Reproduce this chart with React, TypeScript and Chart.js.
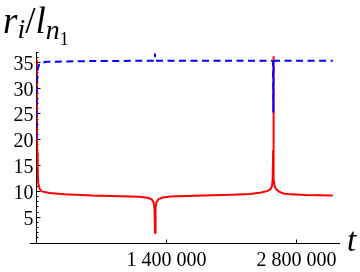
import React, { useEffect, useRef } from 'react';
import { Chart, registerables } from 'chart.js';

Chart.register(...registerables);

// ---- data ----
const redT = [0, 4000, 8000, 13000, 20000, 35000, 60000, 140000, 300000, 600000, 900000, 1100000, 1200000, 1240000, 1260000, 1270000, 1276000, 1282000, 1292000, 1312000, 1360000, 1440000, 1800000, 2100000, 2300000, 2420000, 2490000, 2520000, 2535000, 2543000, 2548000, 2550000, 2552000, 2557000, 2565000, 2580000, 2615000, 2660000, 2730000, 2900000, 3190000];
const redR = [35.5, 25, 17.5, 13.5, 11.5, 10.4, 10.0, 9.7, 9.45, 9.2, 9.07, 8.95, 8.75, 8.45, 7.9, 6.8, 2.0, 6.8, 7.9, 8.45, 8.8, 9.0, 9.2, 9.35, 9.5, 9.8, 10.1, 10.45, 10.95, 12.3, 18, 36.2, 18, 12.3, 10.95, 10.45, 9.9, 9.6, 9.42, 9.3, 9.22];

const blueT = [0, 2000, 5000, 12000, 30000, 100000, 600000, 1268000, 1273000, 1276000, 1276500, 1290000, 2535000, 2547000, 2550000, 2553000, 2565000, 3190000];
const blueR = [20, 27, 31, 33.6, 34.7, 35.1, 35.25, 35.3, 35.45, 36.7, 35.3, 35.3, 35.3, 35.1, 25.3, 35.1, 35.3, 35.3];

const xTicks = [1400000, 2800000];
const xTickLabels = ['1 400 000', '2 800 000'];
const yTicks = [5, 10, 15, 20, 25, 30, 35];

const X_MIN = 0;
const X_MAX = 3268000;
const Y_MIN = 0;
const Y_MAX = 37;

const SERIF = '"Liberation Serif", "Times New Roman", serif';

const axesPlugin = {
  id: 'mmaAxes',
  beforeDatasetsDraw(chart: any) {
    const { ctx, scales } = chart;
    const xs = scales.x;
    const ys = scales.y;
    const x0 = Math.floor(xs.getPixelForValue(0)) + 0.5;
    const y0 = Math.floor(ys.getPixelForValue(0)) + 0.5;
    const xEnd = xs.getPixelForValue(X_MAX);
    const yTop = ys.getPixelForValue(Y_MAX);
    ctx.save();
    ctx.strokeStyle = '#000';
    ctx.lineWidth = 1;
    ctx.beginPath();
    // x axis (runs a little past the y axis on the left)
    ctx.moveTo(x0 - 6.5, y0);
    ctx.lineTo(xEnd, y0);
    // y axis
    ctx.moveTo(x0, y0);
    ctx.lineTo(x0, yTop);
    // y ticks: minor every unit, major at labelled values
    for (let v = 1; v <= Y_MAX; v++) {
      const py = Math.floor(ys.getPixelForValue(v)) + 0.5;
      const len = yTicks.includes(v) ? 4 : 2;
      ctx.moveTo(x0, py);
      ctx.lineTo(x0 + len, py);
    }
    // x ticks
    xTicks.forEach((t) => {
      const px = Math.floor(xs.getPixelForValue(t)) + 0.5;
      ctx.moveTo(px, y0);
      ctx.lineTo(px, y0 - 4);
    });
    ctx.stroke();

    // tick labels
    ctx.fillStyle = '#000';
    ctx.font = `20px ${SERIF}`;
    ctx.textBaseline = 'alphabetic';
    ctx.textAlign = 'right';
    yTicks.forEach((v) => {
      const py = ys.getPixelForValue(v);
      ctx.fillText(String(v), x0 - 3, py + 7.5);
    });
    ctx.textAlign = 'center';
    xTicks.forEach((t, i) => {
      const px = xs.getPixelForValue(t);
      ctx.fillText(xTickLabels[i], px, y0 + 22.5);
    });
    ctx.restore();
  },
};

function ChartCanvas() {
  const ref = useRef<HTMLCanvasElement | null>(null);
  useEffect(() => {
    if (!ref.current) return;
    const chart = new Chart(ref.current, {
      type: 'line',
      data: {
        datasets: [
          {
            label: 'blue',
            data: blueT.map((t, i) => ({ x: t, y: blueR[i] })),
            borderColor: '#0000ff',
            borderWidth: 2,
            borderDash: [7, 4.5],
            pointRadius: 0,
            tension: 0,
            fill: false,
          },
          {
            label: 'red',
            data: redT.map((t, i) => ({ x: t, y: redR[i] })),
            borderColor: '#ff0000',
            borderWidth: 2,
            pointRadius: 0,
            tension: 0,
            fill: false,
          },
        ],
      },
      options: {
        animation: false,
        responsive: false,
        maintainAspectRatio: false,
        events: [],
        layout: { padding: { left: 0, right: 20, top: 52, bottom: 0 } },
        plugins: { legend: { display: false }, tooltip: { enabled: false } },
        scales: {
          x: {
            type: 'linear',
            min: X_MIN,
            max: X_MAX,
            grid: { display: false },
            border: { display: false },
            ticks: { display: false },
            afterFit: (s: any) => {
              s.height = 29;
            },
          },
          y: {
            type: 'linear',
            min: Y_MIN,
            max: Y_MAX,
            grid: { display: false },
            border: { display: false },
            ticks: { display: false },
            afterFit: (s: any) => {
              s.width = 36.5;
            },
          },
        },
      },
      plugins: [axesPlugin],
    });
    return () => chart.destroy();
  }, []);
  return <canvas ref={ref} width={360} height={272} style={{ display: 'block', width: 360, height: 272 }} />;
}

export default function App() {
  const base: React.CSSProperties = { fontFamily: SERIF, fontStyle: 'italic', color: '#000', position: 'absolute', whiteSpace: 'nowrap', lineHeight: 1 };
  return (
    <div style={{ position: 'fixed', left: 0, top: 0, width: 360, height: 272, background: '#fff', overflow: 'hidden' }}>
      <ChartCanvas />
      <div style={{ ...base, left: 3, top: 2, fontSize: 37 }}>
        <span>r</span>
        <span style={{ fontSize: 28, position: 'relative', top: 5 }}>i</span>
        <span style={{ fontStyle: 'normal' }}>/</span>
        <span>l</span>
        <span style={{ fontSize: 28, position: 'relative', top: 6 }}>n</span>
        <span style={{ fontSize: 18, fontStyle: 'normal', position: 'relative', top: 12 }}>1</span>
      </div>
      <div style={{ ...base, left: 347, top: 224, fontSize: 33 }}>t</div>
    </div>
  );
}
